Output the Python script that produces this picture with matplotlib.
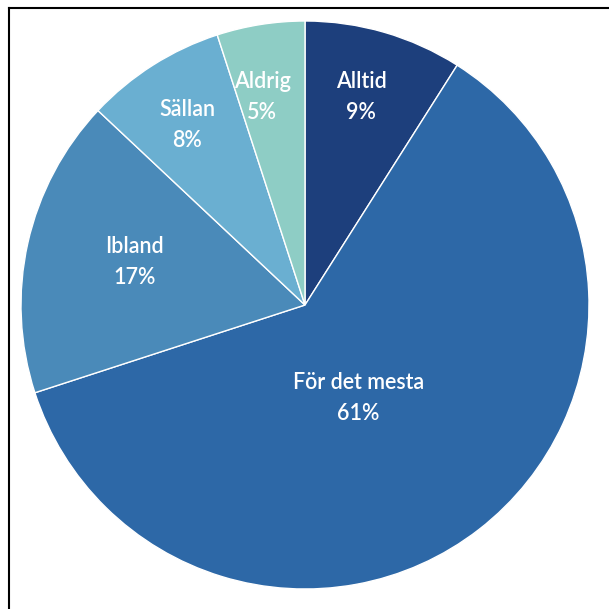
import matplotlib
matplotlib.use('Agg')
import matplotlib.pyplot as plt
from matplotlib.lines import Line2D
import numpy as np

# svarsandelar
kategorier = ['Alltid', 'För det mesta', 'Ibland', 'Sällan', 'Aldrig']
andelar = [9, 61, 17, 8, 5]
farger = ['#1d3f7c', '#2d68a7', '#4a8ab9', '#6aafd1', '#8ecdc5']

# etikettplacering (radie, vinkel i grader) i pajens koordinater
etikett_pos = [(0.758, 74.9), (0.377, -60.0), (0.62, 165.9), (0.758, 123.2), (0.747, 101.7)]

plt.rcParams['font.family'] = ['Lato', 'DejaVu Sans']

fig = plt.figure(figsize=(6.09, 6.09), dpi=100)
W = 609.0
cx, cy, r = 305, 305, 284
ax = fig.add_axes([(cx - r) / W, (W - cy - r) / W, 2 * r / W, 2 * r / W])

wedges, _ = ax.pie(andelar, colors=farger, startangle=90, counterclock=False,
                   radius=1, wedgeprops=dict(edgecolor='white', linewidth=1))

for namn, v, (rr, ang) in zip(kategorier, andelar, etikett_pos):
    a = np.deg2rad(ang)
    ax.text(rr * np.cos(a), rr * np.sin(a), '%s\n%d%%' % (namn, v),
            ha='center', va='center', color='white', fontsize=15.5,
            linespacing=1.6, fontweight='semibold')

ax.set_xlim(-1, 1)
ax.set_ylim(-1, 1)
ax.set_aspect('equal')
ax.axis('off')

# ram (endast vänster och övre kant syns)
fig.add_artist(Line2D([9 / W, 9 / W], [0, 1 - 8 / W], color='black', lw=1.5,
                      transform=fig.transFigure))
fig.add_artist(Line2D([9 / W, 1], [1 - 8 / W, 1 - 8 / W], color='black', lw=1.5,
                      transform=fig.transFigure))

fig.savefig('out.png', dpi=100, facecolor='white')
